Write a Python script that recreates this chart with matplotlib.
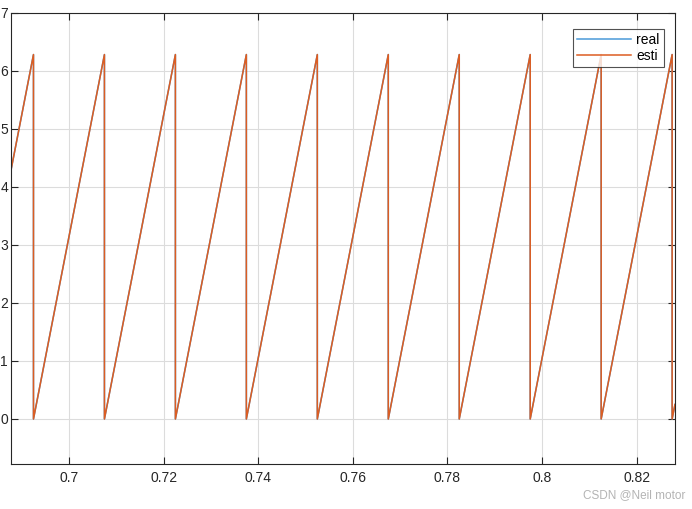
import numpy as np
import matplotlib
matplotlib.use('Agg')
import matplotlib.pyplot as plt

plt.rcParams['font.family'] = ['Liberation Sans', 'DejaVu Sans']

# 读图得到的数据: 锯齿波的复位时刻和峰值
t_start, v_start = 0.68775, 4.29
t_end, v_end = 0.8281, 0.25
reset_times = [0.6925, 0.7075, 0.7225, 0.7375, 0.7525, 0.7675, 0.7825, 0.7975, 0.8125, 0.8275]
peak = 6.2832

xticks = [0.7, 0.72, 0.74, 0.76, 0.78, 0.8, 0.82]
yticks = [0, 1, 2, 3, 4, 5, 6, 7]

# 拼出折线顶点
t = [t_start]
v = [v_start]
for tr in reset_times:
    t += [tr, tr]
    v += [peak, 0.0]
t.append(t_end)
v.append(v_end)

fig = plt.figure(figsize=(6.92, 5.09), dpi=100)
ax = fig.add_axes([0.0159, 0.0884, 0.9595, 0.8861])

ax.plot(t, v, color='#4a9ad8', lw=1.1, label='real')
ax.plot(t, v, color='#dc5d22', lw=1.1, label='esti')

ax.set_xlim(t_start, t_end)
ax.set_ylim(-0.776, 7)
ax.set_xticks(xticks)
ax.set_xticklabels(['0.7', '0.72', '0.74', '0.76', '0.78', '0.8', '0.82'])
ax.set_yticks(yticks)

ax.grid(True, color='#dcdcdc', lw=0.8)
ax.set_axisbelow(True)
ax.tick_params(direction='in', length=5, width=0.8, colors='#262626', labelsize=10,
               top=True, right=True)
ax.tick_params(axis='y', pad=2.2)
ax.tick_params(axis='x', pad=5)
for s in ax.spines.values():
    s.set_color('#262626')
    s.set_linewidth(0.8)

leg = ax.legend(loc='upper right', bbox_to_anchor=(664 / 692, 1 - 29 / 509),
                bbox_transform=fig.transFigure, fontsize=10, frameon=True, fancybox=False,
                edgecolor='#262626', handlelength=3.9, borderaxespad=0,
                borderpad=0.3, labelspacing=0.1, handletextpad=0.4)
leg.get_frame().set_linewidth(0.8)

fig.text(0.99, 0.027, 'CSDN @Neil motor', ha='right', va='center', fontsize=8.5, color='#b4b4b4')

fig.savefig('out.png', dpi=100)
